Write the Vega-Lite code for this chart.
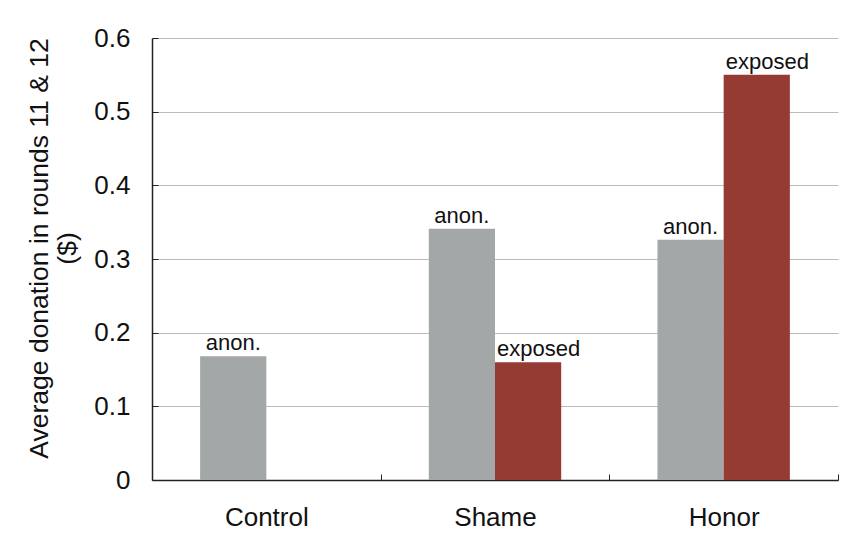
{
  "$schema": "https://vega.github.io/schema/vega-lite/v6.json",
  "width": 686,
  "height": 442,
  "autosize": {"type": "none"},
  "padding": {"left": 152, "top": 38, "right": 5, "bottom": 57},
  "background": "white",
  "config": {
    "font": "Liberation Sans",
    "view": {"stroke": null},
    "axis": {"labelFont": "Liberation Sans", "titleFont": "Liberation Sans", "labelColor": "#111", "titleColor": "#111", "domainColor": "#222", "tickColor": "#222", "labelFontSize": 26, "titleFontSize": 26.5, "titleFontWeight": "normal"}
  },
  "data": {
    "values": [
      {"treatment": "Control", "condition": "anon.", "donation": 0.168},
      {"treatment": "Shame", "condition": "anon.", "donation": 0.341},
      {"treatment": "Shame", "condition": "exposed", "donation": 0.160},
      {"treatment": "Honor", "condition": "anon.", "donation": 0.326},
      {"treatment": "Honor", "condition": "exposed", "donation": 0.550}
    ]
  },
  "encoding": {
    "x": {
      "field": "treatment",
      "type": "nominal",
      "sort": ["Control", "Shame", "Honor"],
      "scale": {"paddingInner": 0, "paddingOuter": 0},
      "axis": {"title": null, "labelAngle": 0, "labelPadding": 30, "tickBand": "extent", "tickSize": -6, "domainWidth": 1.5, "grid": false}
    },
    "xOffset": {
      "field": "condition",
      "type": "nominal",
      "scale": {"domain": ["anon.", "exposed"], "paddingInner": 0, "paddingOuter": 0.727}
    },
    "y": {
      "field": "donation",
      "type": "quantitative",
      "scale": {"domain": [0, 0.6], "nice": false},
      "axis": {
        "title": ["Average donation in rounds 11 & 12", "($)"],
        "titleLineHeight": 28,
        "titlePadding": 12,
        "titleY": 210,
        "values": [0, 0.1, 0.2, 0.3, 0.4, 0.5, 0.6],
        "format": ".1~f",
        "labelPadding": 28,
        "tickSize": -6,
        "domainWidth": 1.5,
        "grid": true,
        "gridColor": "#bbbbbb",
        "gridWidth": 1.2
      }
    }
  },
  "layer": [
    {
      "mark": {"type": "bar"},
      "encoding": {
        "color": {
          "field": "condition",
          "type": "nominal",
          "scale": {"domain": ["anon.", "exposed"], "range": ["#a4a7a7", "#963a34"]},
          "legend": null
        }
      }
    },
    {
      "transform": [{"filter": "datum.condition === 'anon.'"}],
      "mark": {"type": "text", "fontSize": 22, "baseline": "alphabetic", "align": "center", "dy": -6, "color": "#111"},
      "encoding": {"text": {"field": "condition"}}
    },
    {
      "transform": [{"filter": "datum.condition === 'exposed'"}],
      "mark": {"type": "text", "fontSize": 22, "baseline": "alphabetic", "align": "left", "dx": -31, "dy": -6, "color": "#111"},
      "encoding": {"text": {"field": "condition"}}
    }
  ]
}
